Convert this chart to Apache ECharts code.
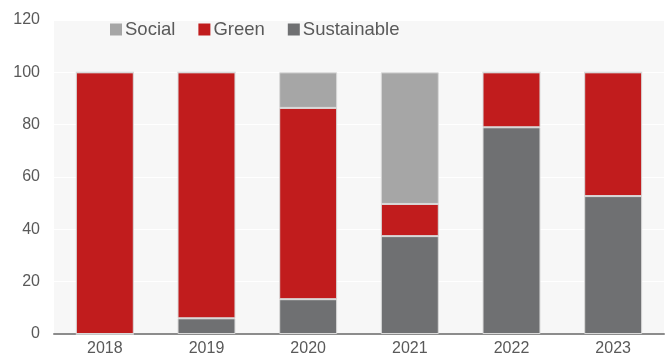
<!DOCTYPE html>
<html>
<head>
<meta charset="utf-8">
<script src="https://cdn.jsdelivr.net/npm/echarts@6/dist/echarts.min.js"></script>
<style>
  html, body { margin: 0; padding: 0; background: #fff; }
  #chart { width: 668px; height: 353px; }
</style>
</head>
<body>
<div id="chart"></div>
<script>
// data
var years = ['2018', '2019', '2020', '2021', '2022', '2023'];
var sustainable = [0, 6, 13.3, 37.4, 79, 52.7];
var green = [100, 94, 73.1, 12.3, 21, 47.3];
var social = [0, 0, 13.6, 50.3, 0, 0];
var yTicks = [0, 20, 40, 60, 80, 100, 120];

var chart = echarts.init(document.getElementById('chart'));
var font = 'Liberation Sans, Arial, sans-serif';
var barStyle = function (c) {
  return { color: c, borderColor: '#d9d9d9', borderWidth: 1 };
};
var option = {
  animation: false,
  textStyle: { fontFamily: font },
  grid: {
    left: 54, right: 4, top: 20, bottom: 19,
    outerBoundsMode: 'none', containLabel: false,
    backgroundColor: '#f7f7f7', show: true, borderWidth: 0
  },
  legend: {
    left: 105, top: 15,
    itemWidth: 12, itemHeight: 12, itemGap: 23,
    icon: 'rect',
    itemStyle: { borderWidth: 0 },
    textStyle: { fontSize: 18.5, color: '#595959', fontFamily: font, padding: [0, 0, 0, -2] },
    data: ['Social', 'Green', 'Sustainable']
  },
  xAxis: {
    type: 'category',
    data: years,
    axisLine: { lineStyle: { color: '#8c8c8c', width: 2 } },
    axisTick: { show: false },
    axisLabel: { fontSize: 16, color: '#595959', margin: 7 }
  },
  yAxis: {
    type: 'value',
    min: yTicks[0], max: yTicks[yTicks.length - 1], interval: 20,
    axisLine: { show: false },
    axisTick: { show: false },
    splitLine: { lineStyle: { color: '#ffffff', width: 1 } },
    axisLabel: { fontSize: 16, color: '#595959', margin: 14 }
  },
  series: [
    { name: 'Sustainable', type: 'bar', stack: 'a', barWidth: '57%', data: sustainable, itemStyle: barStyle('#6f7072') },
    { name: 'Green', type: 'bar', stack: 'a', data: green, itemStyle: barStyle('#c11c1d') },
    { name: 'Social', type: 'bar', stack: 'a', data: social, itemStyle: barStyle('#a6a6a6') }
  ]
};
chart.setOption(option);
</script>
</body>
</html>
